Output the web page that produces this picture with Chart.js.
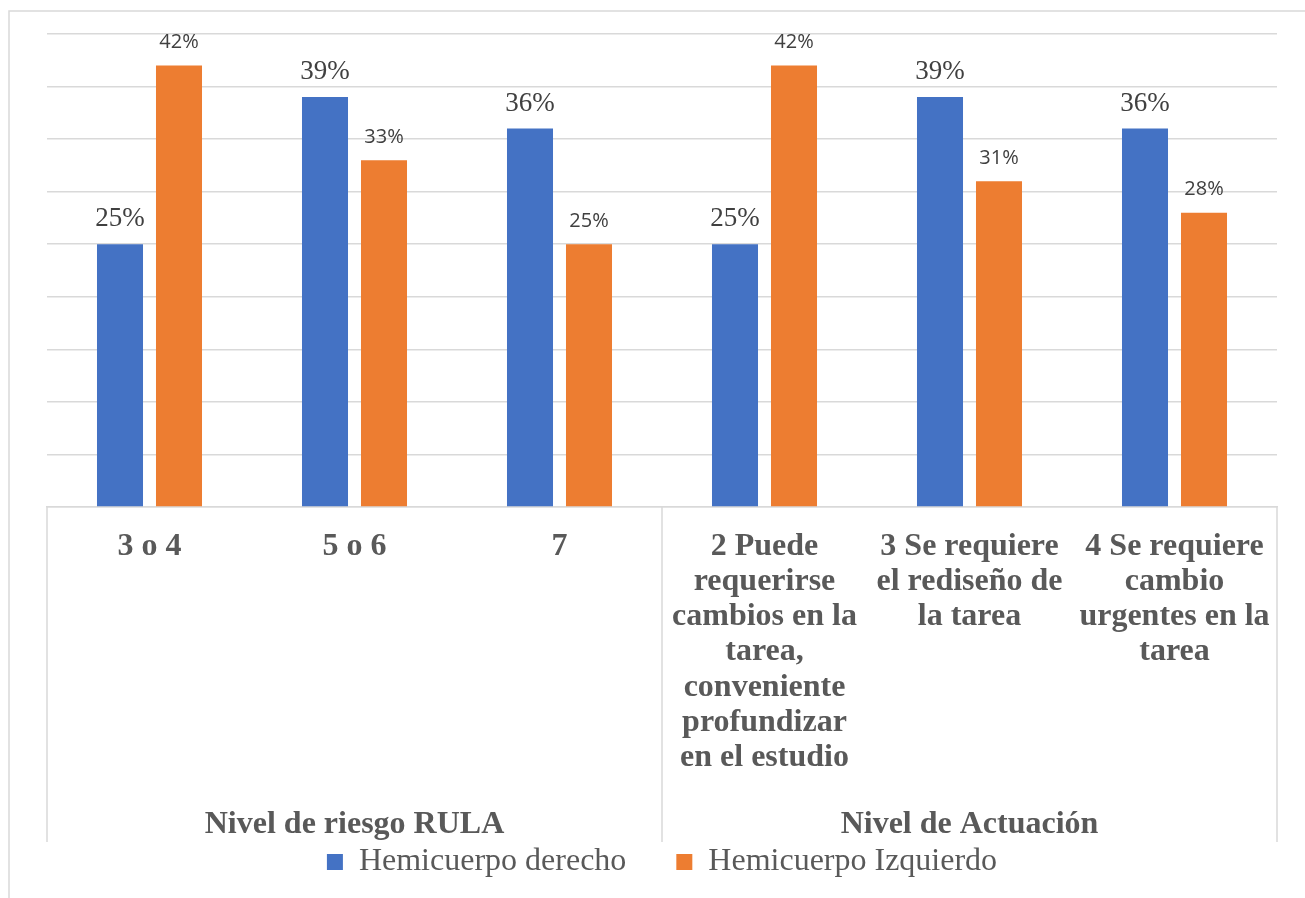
<!DOCTYPE html>
<html lang="es">
<head>
<meta charset="utf-8">
<title>Hemicuerpo derecho / izquierdo</title>
<script src="https://cdn.jsdelivr.net/npm/chart.js@4.4.1/dist/chart.umd.min.js"></script>
<style>
  html, body { margin: 0; padding: 0; background: #ffffff; }
  #wrap { position: relative; width: 1305px; height: 898px; }
</style>
</head>
<body>
<div id="wrap"><canvas id="chart"></canvas></div>
<script>
// Categories (multi-line tick labels), grouped under two headings
const categories = [
  ['3 o 4'],
  ['5 o 6'],
  ['7'],
  ['2 Puede', 'requerirse', 'cambios en la', 'tarea,', 'conveniente', 'profundizar', 'en el estudio'],
  ['3 Se requiere', 'el rediseño de', 'la tarea'],
  ['4 Se requiere', 'cambio', 'urgentes en la', 'tarea']
];
const groupLabels = ['Nivel de riesgo RULA', 'Nivel de Actuación'];
const groupSizes = [3, 3];

// Percentages per series
const seriesNames = ['Hemicuerpo derecho', 'Hemicuerpo Izquierdo'];
const derecho = [25, 39, 36, 25, 39, 36];
const izquierdo = [42, 33, 25, 42, 31, 28];

const GRID = '#d9d9d9';
const SERIF = '"Liberation Serif", "Times New Roman", serif';
const SANS = '"Open Sans", "Noto Sans", sans-serif';

// Value label look per dataset
const labelStyles = [
  { font: '27px ' + SERIF, gap: 18 },
  { font: '20px ' + SANS, gap: 17.5 }
];

// White background plus the outer frame
const framePlugin = {
  id: 'frame',
  beforeDraw(chart) {
    const ctx = chart.ctx;
    ctx.save();
    ctx.fillStyle = '#ffffff';
    ctx.fillRect(0, 0, chart.width, chart.height);
    ctx.strokeStyle = GRID;
    ctx.lineWidth = 1.5;
    ctx.beginPath();
    ctx.moveTo(9, chart.height);
    ctx.lineTo(9, 11);
    ctx.lineTo(chart.width, 11);
    ctx.stroke();
    ctx.restore();
  }
};

// Percent labels above each bar
const valueLabels = {
  id: 'valueLabels',
  afterDatasetsDraw(chart) {
    const ctx = chart.ctx;
    chart.data.datasets.forEach((ds, i) => {
      const meta = chart.getDatasetMeta(i);
      const st = labelStyles[i];
      ctx.save();
      ctx.font = st.font;
      ctx.fillStyle = '#404040';
      ctx.textAlign = 'center';
      ctx.textBaseline = 'alphabetic';
      meta.data.forEach((bar, j) => {
        ctx.fillText(ds.data[j] + '%', bar.x, bar.y - st.gap);
      });
      ctx.restore();
    });
  }
};

// Group separators and group headings under the category labels
const groupAxis = {
  id: 'groupAxis',
  afterDraw(chart) {
    const x = chart.scales.x;
    const ctx = chart.ctx;
    const top = chart.chartArea.bottom;
    const bottom = 842;
    const half = (x.getPixelForValue(1) - x.getPixelForValue(0)) / 2;
    ctx.save();
    ctx.strokeStyle = GRID;
    ctx.lineWidth = 1.5;
    ctx.font = 'bold 32px ' + SERIF;
    ctx.fillStyle = '#595959';
    ctx.textAlign = 'center';
    ctx.textBaseline = 'alphabetic';
    let start = 0;
    const edges = [x.getPixelForValue(0) - half];
    groupSizes.forEach((n, g) => {
      const left = x.getPixelForValue(start) - half;
      const right = x.getPixelForValue(start + n - 1) + half;
      edges.push(right);
      ctx.fillText(groupLabels[g], (left + right) / 2, 833);
      start += n;
    });
    ctx.beginPath();
    edges.forEach(px => {
      ctx.moveTo(px, top);
      ctx.lineTo(px, bottom);
    });
    ctx.stroke();
    ctx.restore();
  }
};

new Chart(document.getElementById('chart'), {
  type: 'bar',
  data: {
    labels: categories,
    datasets: [
      { label: seriesNames[0], data: derecho, backgroundColor: '#4472c4' },
      { label: seriesNames[1], data: izquierdo, backgroundColor: '#ed7d31' }
    ]
  },
  options: {
    responsive: true,
    maintainAspectRatio: false,
    animation: false,
    categoryPercentage: 0.5756,
    barPercentage: 0.78,
    layout: { padding: { left: 47, right: 28, top: 34, bottom: 10 } },
    plugins: {
      tooltip: { enabled: false },
      legend: {
        position: 'bottom',
        labels: {
          boxWidth: 16,
          boxHeight: 16,
          padding: 50,
          color: '#595959',
          font: { family: SERIF, size: 32 }
        }
      }
    },
    scales: {
      x: {
        grid: { display: false, drawTicks: false },
        border: { display: true, color: GRID, width: 1.5 },
        ticks: {
          autoSkip: false,
          maxRotation: 0,
          minRotation: 0,
          padding: 22,
          color: '#595959',
          font: { family: SERIF, size: 32, weight: 'bold', lineHeight: 1.1 }
        },
        afterFit(scale) { scale.height = 289; }
      },
      y: {
        min: 0,
        max: 45,
        ticks: { display: false, stepSize: 5 },
        grid: { color: GRID, lineWidth: 1.5, drawTicks: false },
        border: { display: false }
      }
    }
  },
  plugins: [framePlugin, valueLabels, groupAxis]
});
</script>
</body>
</html>
